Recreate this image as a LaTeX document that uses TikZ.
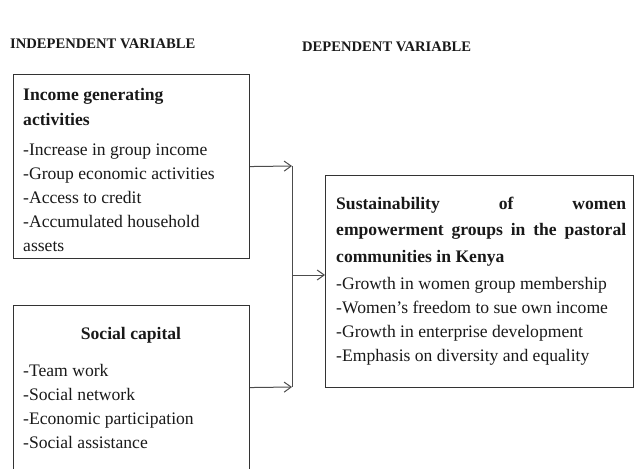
\documentclass[tikz,border=0pt]{standalone}
\usepackage{fontspec}
\setmainfont{Liberation Serif}
\usetikzlibrary{arrows.meta}
\begin{document}
\begin{tikzpicture}[x=1pt,y=-1pt,
  boxst/.style={draw=black!80, line width=1.1pt, rectangle, inner sep=0pt, anchor=north west},
  conn/.style={draw=black!70, line width=1pt},
  arr/.style={conn, -{Straight Barb[length=7pt,width=10pt,line width=1pt]}},
  txt/.style={anchor=base west, inner sep=0pt, align=left, text=black!90, font=\fontsize{17.6}{24}\selectfont},
  ttl/.style={txt, font=\bfseries\fontsize{17.6}{25}\selectfont},
  hdr/.style={anchor=base west, inner sep=0pt, text=black!90, font=\bfseries\fontsize{14.6}{17}\selectfont}]
\useasboundingbox (0,0) rectangle (636,468);
\clip (0,0) rectangle (636,468);
% headers
\node[hdr] (h1) at (10,49) {INDEPENDENT VARIABLE};
\node[hdr] (h2) at (302,52) {DEPENDENT VARIABLE};
% boxes
\node[boxst, minimum width=236pt, minimum height=184pt] (b1) at (13,74) {};
\node[boxst, minimum width=236pt, minimum height=164pt] (b2) at (13,305) {};
\node[boxst, minimum width=308pt, minimum height=212pt] (b3) at (325,175) {};
% box 1 text (anchored at the baseline of the last line)
\node[ttl] (t1) at (23,125) {Income generating\\activities};
\node[txt] (i1) at (23,251) {-Increase in group income\\-Group economic activities\\-Access to credit\\-Accumulated household\\assets};
% box 2 text
\node[ttl, anchor=base] (t2) at (131,339) {Social capital};
\node[txt] (i2) at (23,448) {-Team work\\-Social network\\-Economic participation\\-Social assistance};
% box 3 text
\node[ttl, font=\bfseries\fontsize{17.6}{26.5}\selectfont] (t3) at (336,262) {\makebox[290pt][s]{Sustainability of women}\\\makebox[290pt][s]{empowerment groups in the pastoral}\\communities in Kenya};
\node[txt] (i3) at (336,361) {-Growth in women group membership\\-Women’s freedom to sue own income\\-Growth in enterprise development\\-Emphasis on diversity and equality};
% connectors
\coordinate (jt) at (292,166);
\coordinate (jb) at (292,387);
\coordinate (jm) at (292,275);
\draw[conn] (jt) -- (jb);
\draw[arr] (b1.east) -- (jt);
\draw[arr] (b2.east) -- (jb);
\draw[arr] (jm) -- (b3.west |- jm);
\end{tikzpicture}
\end{document}
